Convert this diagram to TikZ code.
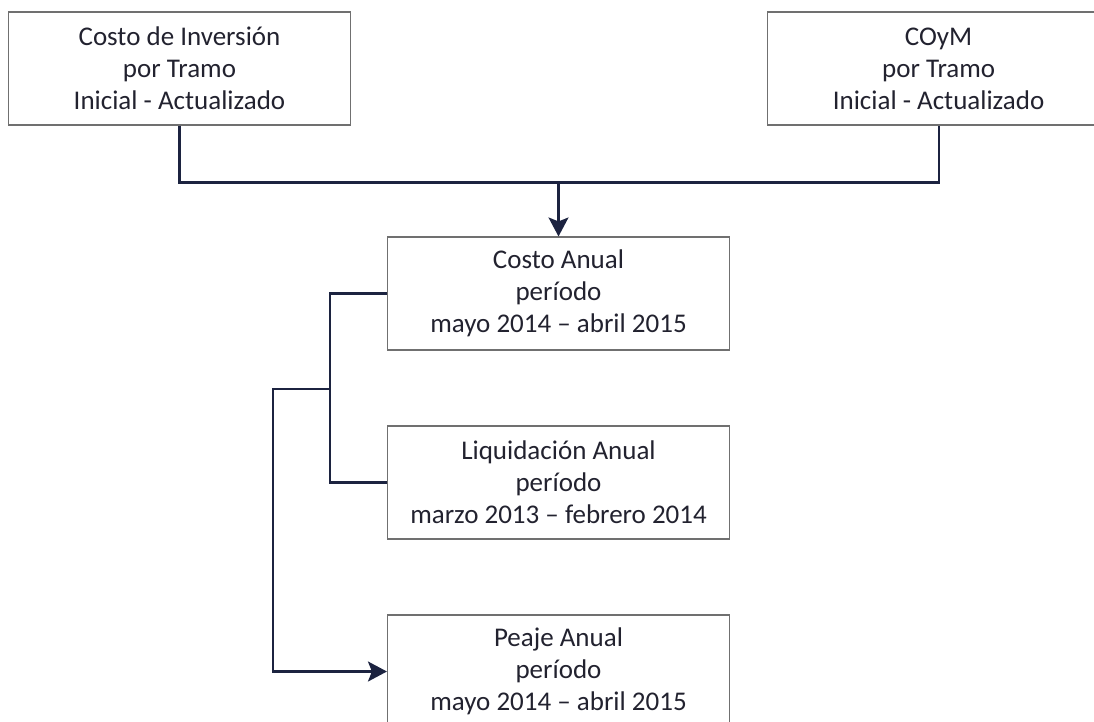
\documentclass[tikz,border=0pt]{standalone}
\usepackage{fontspec}
\setmainfont{Carlito}
\usepackage{tikz}
\usetikzlibrary{positioning, arrows.meta}

\definecolor{bordegris}{HTML}{707070}
\definecolor{textogris}{HTML}{22222F}
\definecolor{lineaazul}{HTML}{1C2340}

\begin{document}
\begin{tikzpicture}[x=1pt,y=1pt,node distance=189pt]
\tikzset{font=\fontsize{27pt}{32pt}\selectfont}
\tikzset{caja/.style={draw=bordegris,line width=1.1pt,text=textogris,align=center,
                      minimum width=342pt,minimum height=113pt,inner sep=2pt}}
\tikzset{linea/.style={draw=lineaazul,line width=2.2pt}}
\tikzset{flecha/.style={linea,-{Stealth[length=19pt,width=20pt,inset=4pt]}}}

\clip (0,0) rectangle (1094,-721);

        \node[caja]                      (inv)                      at (179.5,-68.5) {Costo de Inversión\\por Tramo\\Inicial - Actualizado};
        \node[caja, right=416pt of inv]  (coym)                                      {COyM\\por Tramo\\Inicial - Actualizado};

        \node[caja]                      (anual)                    at (558.5,-293.5) {Costo Anual\\período\\mayo 2014 -- abril 2015};
        \node[caja]                      (liq)   [below of=anual]                     {Liquidación Anual\\período\\marzo 2013 -- febrero 2014};
        \node[caja]                      (peaje) [below of=liq]                       {Peaje Anual\\período\\mayo 2014 -- abril 2015};

        % union de los dos costos
        \path (inv.south) ++(0,-57) coordinate (j1);
        \draw[linea] (inv.south) -- (j1) -| (coym.south);
        \draw[flecha] (anual.north |- j1) -- (anual.north);

        % ramas a la izquierda
        \draw[linea] (anual.west) -- ++(-57,0) coordinate (j2) |- (liq.west);
        \path (j2 |- 0,-389) coordinate (j3);
        \draw[flecha] (j3) -- ++(-57,0) |- (peaje.west);
        
\end{tikzpicture}
\end{document}
